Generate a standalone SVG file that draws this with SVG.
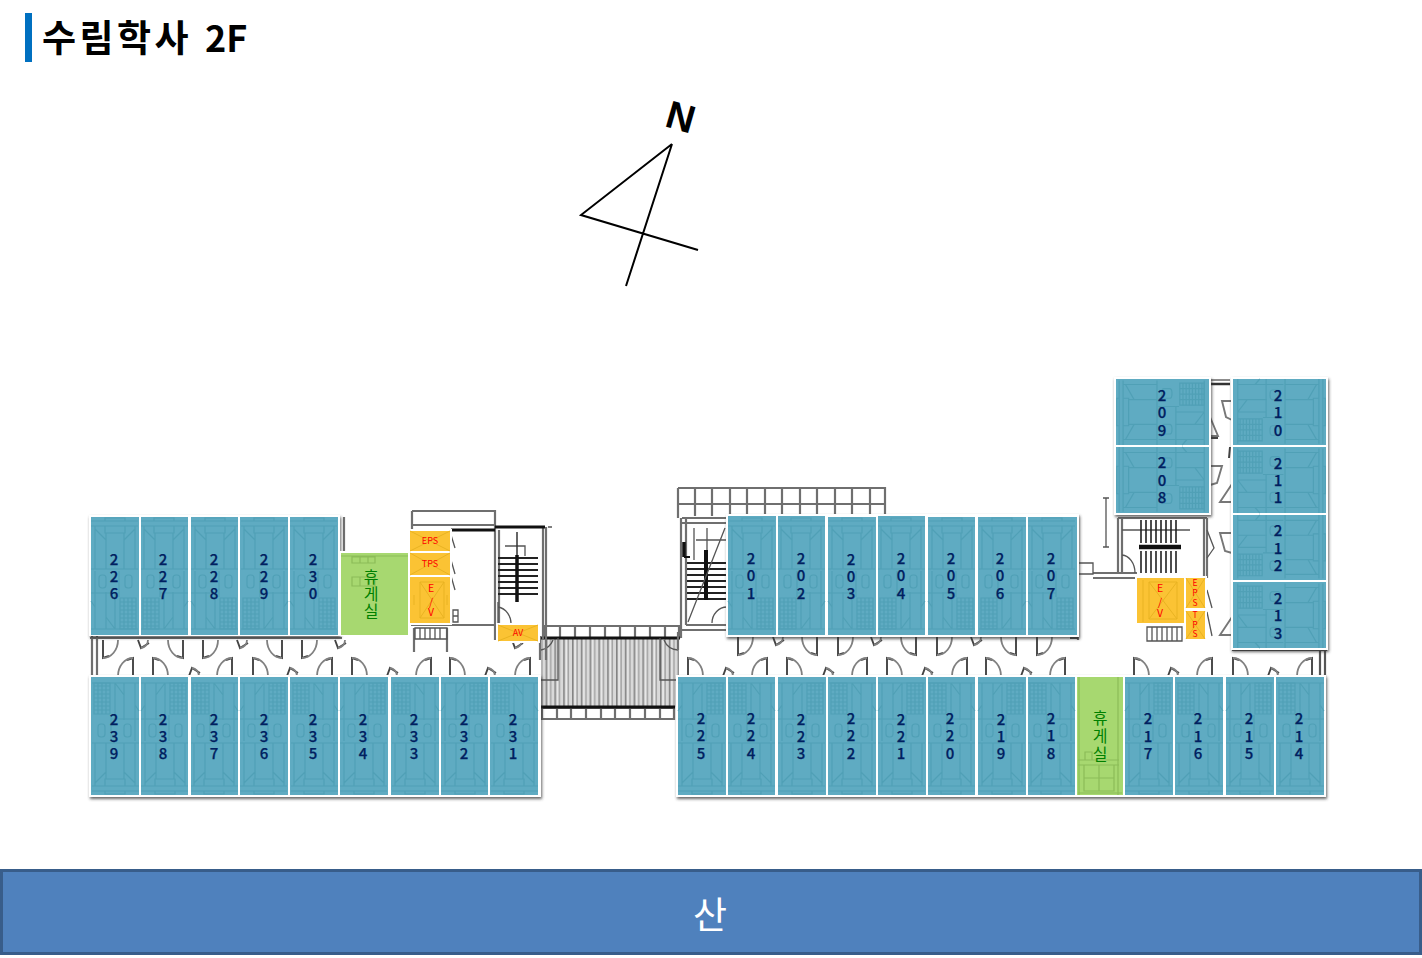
<svg xmlns="http://www.w3.org/2000/svg" width="1422" height="958" viewBox="0 0 1422 958">
<style>
text{font-family:"Noto Sans CJK KR","Noto Sans",sans-serif;text-anchor:middle}
.t{font-size:37px;font-weight:700;fill:#000;text-anchor:start}
.n{font-size:15px;font-weight:500;fill:#002060;stroke:#002060;stroke-width:.25}
.v{font-size:16px;fill:#008000}
.e{font-size:9px;fill:#f00}
.e3{font-size:8.5px;fill:#f00}
.e2{font-size:10.5px;fill:#f00}
.r{fill:#5fabc2}
.y{fill:#fbc334}
.gr{fill:#a7d870}
.f{fill:#fff;filter:url(#sh)}
.w{fill:none;stroke:#6f6f6f;stroke-width:2.2}
.k{fill:none;stroke:#111;stroke-width:3}
.l{fill:none;stroke:#555;stroke-width:1.3}
.p{fill:none;stroke:#808080;stroke-width:1.8}
.d1{fill:none;stroke:#444;stroke-width:1.9}
.rm path,.rm rect{fill:none;stroke:#50a0b6;stroke-width:1.2;vector-effect:non-scaling-stroke}
.ym path{fill:none;stroke:#e9b322;stroke-width:1}
.gl{fill:none;stroke:#8cbc58;stroke-width:1.2}
</style>
<defs>
<filter id="sh" x="-5%" y="-5%" width="110%" height="110%"><feDropShadow dx="1" dy="2" stdDeviation="1.4" flood-color="#333" flood-opacity=".75"/></filter>
<pattern id="hatch" width="8.8" height="10" patternUnits="userSpaceOnUse"><rect width="8.8" height="10" fill="#d9d9d9"/><rect x="0" width="1.6" height="10" fill="#848484"/><rect x="4.4" width="1.4" height="10" fill="#a0a0a0"/><rect x="2.6" width="1" height="10" fill="#f2f2f2"/></pattern>
<g id="rm" class="rm">
<path d="M0 4H47M0 9H47M14 4V1H34V4M14 9V16H34V9M4 9V52M15 16V52M33 16V52M44 9V52M0 52H47M4 12L15 23M44 12L33 23M4 54V112M15 75V112M28 54V80M0 76H28M0 112H47M0 84L4 90M15 100L24 112M24 76V112"/>
<rect x="8" y="58" width="7" height="13" rx="3"/><rect x="34" y="58" width="7" height="13" rx="3"/>
<rect x="29" y="81" width="16" height="31"/>
<path d="M29 85H45M29 89H45M29 93H45M29 97H45M29 101H45M29 105H45M29 109H45M33 81V112M37 81V112M41 81V112"/>
</g>
<g id="dd"><path class="d1" d="M0 0V18L6 16"/><path class="p" d="M0 18A15 18 0 0 0 15 0"/></g>
<g id="ds"><path class="d1" d="M0 0L3 8L11 3"/><path class="p" d="M3 8A8 8 0 0 0 10 0"/></g>
</defs>

<g id="title"><rect x="25" y="13" width="7" height="49" fill="#0070c0"/><text class="t" x="42" y="52"><tspan letter-spacing="3.5">수림학사</tspan> <tspan x="205" font-size="36">2F</tspan></text></g>

<g id="compass"><path d="M672 144L581 215L698 250M672 144L626 286" fill="none" stroke="#000" stroke-width="2"/><text transform="translate(677 130) rotate(16)" style="font-family:'Liberation Sans',sans-serif;font-size:39px;font-weight:700">N</text></g>

<g id="floorplan">
<rect x="541" y="638" width="138" height="69" fill="url(#hatch)"/>
<path class="w" d="M545 626H679V638H545ZM560 626V638M575 626V638M590 626V638M605 626V638M620 626V638M635 626V638M650 626V638M665 626V638M542 708H674V719H542ZM557 708V719M571 708V719M586 708V719M601 708V719M615 708V719M630 708V719M645 708V719M660 708V719"/>
<path class="k" d="M540 638H680M541 707H675"/>
<path class="l" d="M558 638V680H541M660 638V680H680M541 650A16 16 0 0 0 553 640M678 650A16 16 0 0 1 664 640"/>
<path class="w" d="M92 636V676M97 636V676M90 638H342M344 517V636M90 676H100"/>
<path class="w" d="M412 511H495V527M412 511V530M412 525H495M540 636V660M543 527V640M546 527V660M495 527V640M499 530V625"/>
<path class="w" d="M411 625H497M414 628V652M447 628V652"/>
<path class="k" d="M451 530H495M495 527H545"/>
<path class="l" d="M415 628H447V639H415ZM420 628V639M425 628V639M430 628V639M435 628V639M440 628V639M453 610H458V622H453ZM453 616H458M451 535L455 548M451 560L455 574M451 576L455 590M505 546H525V556M498 602V625M498 607A15 17 0 0 1 511 625M548 527H552"/>
<path d="M498 558H538M498 564H538M498 570H538M498 576H538M498 582H538M498 588H538M498 594H538" stroke="#222" stroke-width="2" fill="none"/>
<path d="M517 532V555" stroke="#333" stroke-width="1.5"/><path d="M517 555V602" stroke="#111" stroke-width="3.5"/>

<path class="w" d="M678 488H885V516M678 488V518M678 504H885M695 488V516M712 488V516M730 488V516M747 488V516M765 488V516M782 488V516M800 488V516M817 488V516M835 488V516M852 488V516M870 488V516M682 518H727M682 523H727M681 518V638M686 518V625M686 625H727M680 630H730M678 632V650"/>
<path d="M687 563H726M687 569H726M687 575H726M687 581H726M687 587H726M687 593H726M687 599H726" stroke="#222" stroke-width="2" fill="none"/>
<path d="M706 550V600" stroke="#111" stroke-width="4"/><path d="M684 542V557" stroke="#111" stroke-width="3.5"/><path d="M684 557H690" stroke="#111" stroke-width="2"/>
<path class="l" d="M725 528L688 622M694 528V560M707 528V550M696 540H726M712 623A15 16 0 0 1 727 607"/>

<path class="w" d="M1078 515V640M1093 573H1137M1093 578H1137M1118 518V573M1122 518V573M1204 518V578M1207 518V578M1118 518H1207"/>
<path class="l" d="M1078 563H1093V574H1078ZM1106 498V547M1103 498H1109M1103 547H1109M1122 555A14 18 0 0 1 1135 573M1147 627H1182V641H1147ZM1152 627V641M1157 627V641M1162 627V641M1167 627V641M1172 627V641M1177 627V641M1122 530H1190M1207 530L1214 548L1207 558M1207 590L1212 608M1207 612L1212 636"/>
<path d="M1141 520V543M1146 520V543M1151 520V543M1156 520V543M1161 520V543M1166 520V543M1171 520V543M1176 520V543M1141 551V573M1146 551V573M1151 551V573M1156 551V573M1161 551V573M1166 551V573M1171 551V573M1176 551V573" stroke="#222" stroke-width="1.6" fill="none"/>
<path d="M1139 547H1181" stroke="#111" stroke-width="4.5"/>
<path d="M1211 384H1230" stroke="#333" stroke-width="2.5"/><path class="p" d="M1211 380H1230"/>
<path d="M1211 438H1218M1230 447L1229 458" stroke="#444" stroke-width="2"/>
<path class="d1" style="stroke:#777" d="M1232 401H1222L1226 417L1232 420M1210 417L1218 436H1210M1210 466H1222L1217 483L1210 485M1232 484L1220 502H1232M1232 533H1220L1225 551L1232 553M1232 617L1220 635H1232"/>
<path class="w" d="M1232 650H1327M1325 650V677M1320 650V677" style="stroke:#555"/>

<use href="#dd" transform="translate(103 640)"/><use href="#ds" transform="translate(138 640)"/><use href="#dd" transform="translate(183 640) scale(-1 1)"/><use href="#dd" transform="translate(203 640)"/><use href="#ds" transform="translate(237 640)"/><use href="#dd" transform="translate(282 640) scale(-1 1)"/><use href="#dd" transform="translate(302 640)"/>
<use href="#ds" transform="translate(335 640)"/>
<use href="#dd" transform="translate(133 676) scale(-1 -1)"/><use href="#dd" transform="translate(153 676) scale(1 -1)"/><use href="#ds" transform="translate(189 676) scale(1 -1)"/><use href="#dd" transform="translate(232 676) scale(-1 -1)"/><use href="#dd" transform="translate(253 676) scale(1 -1)"/><use href="#ds" transform="translate(287 676) scale(1 -1)"/><use href="#dd" transform="translate(332 676) scale(-1 -1)"/><use href="#dd" transform="translate(352 676) scale(1 -1)"/><use href="#ds" transform="translate(387 676) scale(1 -1)"/><use href="#dd" transform="translate(431 676) scale(-1 -1)"/><use href="#dd" transform="translate(450 676) scale(1 -1)"/><use href="#ds" transform="translate(485 676) scale(1 -1)"/><use href="#dd" transform="translate(530 676) scale(-1 -1)"/>
<use href="#ds" transform="translate(512 640)"/>

<use href="#dd" transform="translate(738 637)"/><use href="#ds" transform="translate(773 637)"/><use href="#dd" transform="translate(817 637) scale(-1 1)"/><use href="#dd" transform="translate(838 637)"/><use href="#ds" transform="translate(871 637)"/><use href="#dd" transform="translate(916 637) scale(-1 1)"/><use href="#dd" transform="translate(937 637)"/><use href="#ds" transform="translate(971 637)"/><use href="#dd" transform="translate(1016 637) scale(-1 1)"/><use href="#dd" transform="translate(1037 637)"/>
<path class="d1" d="M1070 638H1078"/>
<use href="#dd" transform="translate(688 676) scale(1 -1)"/><use href="#ds" transform="translate(723 676) scale(1 -1)"/><use href="#dd" transform="translate(767 676) scale(-1 -1)"/><use href="#dd" transform="translate(787 676) scale(1 -1)"/><use href="#ds" transform="translate(823 676) scale(1 -1)"/><use href="#dd" transform="translate(867 676) scale(-1 -1)"/><use href="#dd" transform="translate(887 676) scale(1 -1)"/><use href="#ds" transform="translate(922 676) scale(1 -1)"/><use href="#dd" transform="translate(967 676) scale(-1 -1)"/><use href="#dd" transform="translate(986 676) scale(1 -1)"/><use href="#ds" transform="translate(1021 676) scale(1 -1)"/><use href="#dd" transform="translate(1065 676) scale(-1 -1)"/>
<use href="#dd" transform="translate(1134 676) scale(1 -1)"/><use href="#ds" transform="translate(1168 676) scale(1 -1)"/><use href="#dd" transform="translate(1212 676) scale(-1 -1)"/><use href="#dd" transform="translate(1233 676) scale(1 -1)"/><use href="#ds" transform="translate(1268 676) scale(1 -1)"/><use href="#dd" transform="translate(1312 676) scale(-1 -1)"/>
</g>

<g id="frames">
<rect class="f" x="89" y="515" width="251" height="121"/>
<rect class="f" x="89" y="675" width="452" height="122"/>
<rect class="f" x="726" y="514" width="353" height="123"/>
<rect class="f" x="676" y="675" width="650" height="122"/>
<rect class="f" x="1114" y="377" width="97" height="138"/>
<rect class="f" x="1231" y="377" width="97" height="273"/>
<rect x="340" y="551" width="69" height="85" fill="#fff"/>
<rect x="408" y="529" width="44" height="96" fill="#fff"/>
<rect x="496" y="623" width="44" height="20" fill="#fff"/>
<rect x="1184" y="576" width="23" height="66" fill="#fff"/>
<rect x="1135" y="576" width="50" height="49" fill="#fff"/>
</g>

<g id="rooms">
<g id="r226"><rect class="r" x="91" y="517" width="48" height="118"/><use href="#rm" transform="translate(91 517)"/><text class="n" x="114 114 114" y="565 582 599">226</text></g>
<g id="r227"><rect class="r" x="141" y="517" width="47" height="118"/><use href="#rm" transform="translate(188 517) scale(-1 1)"/><text class="n" x="163 163 163" y="565 582 599">227</text></g>
<g id="r228"><rect class="r" x="191" y="517" width="47" height="118"/><use href="#rm" transform="translate(191 517)"/><text class="n" x="214 214 214" y="565 582 599">228</text></g>
<g id="r229"><rect class="r" x="240" y="517" width="48" height="118"/><use href="#rm" transform="translate(288 517) scale(-1 1)"/><text class="n" x="264 264 264" y="565 582 599">229</text></g>
<g id="r230"><rect class="r" x="290" y="517" width="48" height="118"/><use href="#rm" transform="translate(290 517)"/><text class="n" x="313 313 313" y="565 582 599">230</text></g>

<g id="r239"><rect class="r" x="91" y="677" width="48" height="118"/><use href="#rm" transform="translate(139 795) scale(-1 -1)"/><text class="n" x="114 114 114" y="725 742 759">239</text></g>
<g id="r238"><rect class="r" x="141" y="677" width="47" height="118"/><use href="#rm" transform="translate(141 795) scale(1 -1)"/><text class="n" x="163 163 163" y="725 742 759">238</text></g>
<g id="r237"><rect class="r" x="191" y="677" width="47" height="118"/><use href="#rm" transform="translate(238 795) scale(-1 -1)"/><text class="n" x="214 214 214" y="725 742 759">237</text></g>
<g id="r236"><rect class="r" x="240" y="677" width="48" height="118"/><use href="#rm" transform="translate(240 795) scale(1 -1)"/><text class="n" x="264 264 264" y="725 742 759">236</text></g>
<g id="r235"><rect class="r" x="290" y="677" width="48" height="118"/><use href="#rm" transform="translate(338 795) scale(-1 -1)"/><text class="n" x="313 313 313" y="725 742 759">235</text></g>
<g id="r234"><rect class="r" x="340" y="677" width="48" height="118"/><use href="#rm" transform="translate(340 795) scale(1 -1)"/><text class="n" x="363 363 363" y="725 742 759">234</text></g>
<g id="r233"><rect class="r" x="391" y="677" width="48" height="118"/><use href="#rm" transform="translate(439 795) scale(-1 -1)"/><text class="n" x="414 414 414" y="725 742 759">233</text></g>
<g id="r232"><rect class="r" x="441" y="677" width="47" height="118"/><use href="#rm" transform="translate(441 795) scale(1 -1)"/><text class="n" x="464 464 464" y="725 742 759">232</text></g>
<g id="r231"><rect class="r" x="490" y="677" width="48" height="118"/><use href="#rm" transform="translate(538 795) scale(-1 -1)"/><text class="n" x="513 513 513" y="725 742 759">231</text></g>

<g id="r201"><rect class="r" x="728" y="516" width="48" height="119"/><use href="#rm" transform="translate(728 517)"/><text class="n" x="751 751 751" y="564 581 599">201</text></g>
<g id="r202"><rect class="r" x="778" y="516" width="47" height="119"/><use href="#rm" transform="translate(825 517) scale(-1 1)"/><text class="n" x="801 801 801" y="564 581 599">202</text></g>
<g id="r203"><rect class="r" x="828" y="517" width="48" height="118"/><use href="#rm" transform="translate(828 517)"/><text class="n" x="851 851 851" y="565 582 599">203</text></g>
<g id="r204"><rect class="r" x="878" y="516" width="47" height="119"/><use href="#rm" transform="translate(925 517) scale(-1 1)"/><text class="n" x="901 901 901" y="564 581 599">204</text></g>
<g id="r205"><rect class="r" x="928" y="517" width="47" height="118"/><use href="#rm" transform="translate(928 517)"/><text class="n" x="951 951 951" y="564 581 599">205</text></g>
<g id="r206"><rect class="r" x="978" y="517" width="48" height="118"/><use href="#rm" transform="translate(1026 517) scale(-1 1)"/><text class="n" x="1000 1000 1000" y="564 581 599">206</text></g>
<g id="r207"><rect class="r" x="1028" y="517" width="49" height="118"/><use href="#rm" transform="translate(1028 517)"/><text class="n" x="1051 1051 1051" y="564 581 599">207</text></g>

<g id="r225"><rect class="r" x="678" y="677" width="48" height="118"/><use href="#rm" transform="translate(678 795) scale(1 -1)"/><text class="n" x="701 701 701" y="724 741 759">225</text></g>
<g id="r224"><rect class="r" x="728" y="677" width="47" height="118"/><use href="#rm" transform="translate(775 795) scale(-1 -1)"/><text class="n" x="751 751 751" y="724 741 759">224</text></g>
<g id="r223"><rect class="r" x="778" y="677" width="48" height="118"/><use href="#rm" transform="translate(778 795) scale(1 -1)"/><text class="n" x="801 801 801" y="725 742 759">223</text></g>
<g id="r222"><rect class="r" x="828" y="677" width="48" height="118"/><use href="#rm" transform="translate(876 795) scale(-1 -1)"/><text class="n" x="851 851 851" y="724 741 759">222</text></g>
<g id="r221"><rect class="r" x="878" y="677" width="48" height="118"/><use href="#rm" transform="translate(878 795) scale(1 -1)"/><text class="n" x="901 901 901" y="725 742 759">221</text></g>
<g id="r220"><rect class="r" x="928" y="677" width="47" height="118"/><use href="#rm" transform="translate(975 795) scale(-1 -1)"/><text class="n" x="950 950 950" y="724 741 759">220</text></g>
<g id="r219"><rect class="r" x="978" y="677" width="48" height="118"/><use href="#rm" transform="translate(978 795) scale(1 -1)"/><text class="n" x="1001 1001 1001" y="725 742 759">219</text></g>
<g id="r218"><rect class="r" x="1028" y="677" width="47" height="118"/><use href="#rm" transform="translate(1075 795) scale(-1 -1)"/><text class="n" x="1051 1051 1051" y="724 741 759">218</text></g>
<g id="r217"><rect class="r" x="1125" y="677" width="48" height="118"/><use href="#rm" transform="translate(1125 795) scale(1 -1)"/><text class="n" x="1148 1148 1148" y="724 742 759">217</text></g>
<g id="r216"><rect class="r" x="1175" y="677" width="48" height="118"/><use href="#rm" transform="translate(1223 795) scale(-1 -1)"/><text class="n" x="1198 1198 1198" y="724 742 759">216</text></g>
<g id="r215"><rect class="r" x="1226" y="677" width="48" height="118"/><use href="#rm" transform="translate(1226 795) scale(1 -1)"/><text class="n" x="1249 1249 1249" y="724 742 759">215</text></g>
<g id="r214"><rect class="r" x="1276" y="677" width="48" height="118"/><use href="#rm" transform="translate(1324 795) scale(-1 -1)"/><text class="n" x="1299 1299 1299" y="724 742 759">214</text></g>

<g id="r209"><rect class="r" x="1116" y="379" width="93" height="66"/><use href="#rm" transform="matrix(0 -1.375 .788 0 1116 445)"/><text class="n" x="1162 1162 1162" y="401 418 436">209</text></g>
<g id="r208"><rect class="r" x="1116" y="447" width="93" height="66"/><use href="#rm" transform="matrix(0 1.375 .788 0 1116 447)"/><text class="n" x="1162 1162 1162" y="468 486 503">208</text></g>
<g id="r210"><rect class="r" x="1233" y="379" width="93" height="66"/><use href="#rm" transform="matrix(0 1.375 -.788 0 1326 379)"/><text class="n" x="1278 1278 1278" y="401 418 436">210</text></g>
<g id="r211"><rect class="r" x="1233" y="447" width="93" height="66"/><use href="#rm" transform="matrix(0 -1.375 -.788 0 1326 513)"/><text class="n" x="1278 1278 1278" y="469 486 503">211</text></g>
<g id="r212"><rect class="r" x="1233" y="515" width="93" height="65"/><use href="#rm" transform="matrix(0 1.35 -.788 0 1326 515)"/><text class="n" x="1278 1278 1278" y="536 554 571">212</text></g>
<g id="r213"><rect class="r" x="1233" y="582" width="93" height="66"/><use href="#rm" transform="matrix(0 -1.375 -.788 0 1326 648)"/><text class="n" x="1278 1278 1278" y="604 621 639">213</text></g>

<g id="rest1"><rect class="gr" x="341" y="553" width="67" height="82"/><path class="gl" d="M341 556H408M352 557H375V563H352ZM360 557V563M368 557V563M352 577H375V586H352ZM360 577V586M368 577V586"/><text class="v" x="371 371 371" y="583 600 617">휴게실</text></g>
<g id="rest2"><rect class="gr" x="1077" y="677" width="46" height="118"/><path class="gl" d="M1118 677V795M1079 677V795M1078 760H1119M1078 765H1119M1084 765V791H1114V765M1099 765V791M1084 778H1114M1078 793H1122M1085 760V752H1092V760"/><text class="v" x="1100 1100 1100" y="724 742 760">휴게실</text></g>

<g id="eps1"><rect class="y" x="410" y="531" width="40" height="20"/><g class="ym"><path d="M410 531L450 551M450 531L410 551"/></g><text class="e" x="430" y="544">EPS</text></g>
<g id="tps1"><rect class="y" x="410" y="553" width="40" height="22"/><g class="ym"><path d="M410 553L450 575M450 553L410 575"/></g><text class="e" x="430" y="567">TPS</text></g>
<g id="ev1"><rect class="y" x="410" y="577" width="40" height="46"/><g class="ym"><path d="M420 582H444V618H420ZM420 582L444 618M444 582L420 618M414 595V605M447 595V605"/></g><text class="e2" x="431 431 431" y="592 606 616">E/V</text></g>
<g id="av"><rect class="y" x="498" y="625" width="40" height="16"/><g class="ym"><path d="M498 625L538 641M538 625L498 641"/></g><text class="e" x="518" y="636">AV</text></g>
<g id="ev2"><rect class="y" x="1137" y="578" width="47" height="45"/><g class="ym"><path d="M1149 582H1177V619H1149ZM1149 582L1177 619M1177 582L1149 619M1143 580V622"/></g><text class="e2" x="1160 1160 1160" y="592 606 617">E/V</text></g>
<g id="eps2"><rect class="y" x="1186" y="578" width="19" height="30"/><g class="ym"><path d="M1186 578L1205 608M1205 578L1186 608"/></g><text class="e3" x="1195 1195 1195" y="586 596 606">EPS</text></g>
<g id="tps2"><rect class="y" x="1186" y="611" width="19" height="28"/><g class="ym"><path d="M1186 611L1205 639M1205 611L1186 639"/></g><text class="e3" x="1195 1195 1195" y="618 628 637">TPS</text></g>
</g>

<g id="mountain"><rect x="1.5" y="870.5" width="1419" height="83" fill="#4f81bd" stroke="#385d8a" stroke-width="3"/><text x="710" y="929" font-size="37" fill="#fff">산</text></g>
</svg>
